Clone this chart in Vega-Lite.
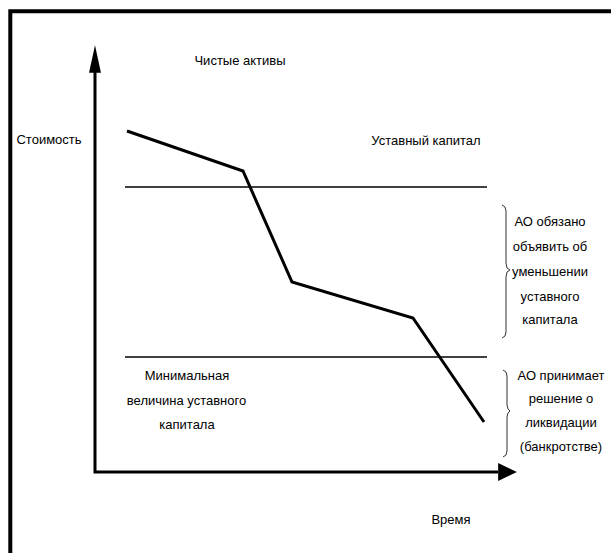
{
  "$schema": "https://vega.github.io/schema/vega-lite/v6.json",
  "width": 611,
  "height": 553,
  "autosize": {"type": "none"},
  "padding": 0,
  "background": "white",
  "config": {"view": {"stroke": null}},
  "datasets": {
    "frame": [
      {"o": 1, "t": -16.94, "v": -17},
      {"o": 2, "t": -16.94, "v": 92.14},
      {"o": 3, "t": 104, "v": 92.14}
    ],
    "axes": [
      {"o": 1, "t": 0, "v": 80},
      {"o": 2, "t": 0, "v": 0},
      {"o": 3, "t": 80.6, "v": 0}
    ],
    "levels": [
      {"level": "Уставный капитал", "t0": 6, "t1": 78.4, "v": 57},
      {"level": "Минимальная величина уставного капитала", "t0": 6, "t1": 78.4, "v": 23}
    ],
    "netAssets": [
      {"t": 6.4, "v": 68.2},
      {"t": 29.6, "v": 60.2},
      {"t": 39.4, "v": 38},
      {"t": 63.6, "v": 30.8},
      {"t": 77.8, "v": 10}
    ],
    "braces": [
      {"brace": "a", "o": 1, "t": 81.4, "v": 53.4},
      {"brace": "a", "o": 2, "t": 82, "v": 53},
      {"brace": "a", "o": 3, "t": 82.2, "v": 52.2},
      {"brace": "a", "o": 4, "t": 82.2, "v": 41.8},
      {"brace": "a", "o": 5, "t": 82.4, "v": 40.8},
      {"brace": "a", "o": 6, "t": 83, "v": 40.4},
      {"brace": "a", "o": 7, "t": 82.4, "v": 40},
      {"brace": "a", "o": 8, "t": 82.2, "v": 39},
      {"brace": "a", "o": 9, "t": 82.2, "v": 28},
      {"brace": "a", "o": 10, "t": 82, "v": 27.2},
      {"brace": "a", "o": 11, "t": 81.4, "v": 26.8},
      {"brace": "b", "o": 1, "t": 81.6, "v": 20.4},
      {"brace": "b", "o": 2, "t": 82.2, "v": 20},
      {"brace": "b", "o": 3, "t": 82.4, "v": 19.2},
      {"brace": "b", "o": 4, "t": 82.4, "v": 13.4},
      {"brace": "b", "o": 5, "t": 82.6, "v": 12.6},
      {"brace": "b", "o": 6, "t": 83, "v": 12.2},
      {"brace": "b", "o": 7, "t": 82.6, "v": 11.8},
      {"brace": "b", "o": 8, "t": 82.4, "v": 11},
      {"brace": "b", "o": 9, "t": 82.4, "v": 4.2},
      {"brace": "b", "o": 10, "t": 82.2, "v": 3.4},
      {"brace": "b", "o": 11, "t": 81.6, "v": 3}
    ],
    "arrowY": [{"t": 0, "v": 82.6}],
    "arrowX": [{"t": 82.5, "v": 0}],
    "labels": [
      {"label": "Чистые активы", "t": 29, "v": 82.2},
      {"label": "Стоимость", "t": -9.2, "v": 66.4},
      {"label": "Уставный капитал", "t": 66.2, "v": 66.2},
      {"label": "Время", "t": 71.2, "v": -9.6},
      {"label": "Минимальная", "t": 18.4, "v": 19.2},
      {"label": "величина уставного", "t": 18.3, "v": 14.2},
      {"label": "капитала", "t": 18.4, "v": 9.4},
      {"label": "АО обязано", "t": 91, "v": 50},
      {"label": "объявить об", "t": 91, "v": 45},
      {"label": "уменьшении", "t": 91, "v": 40},
      {"label": "уставного", "t": 91, "v": 35},
      {"label": "капитала", "t": 91, "v": 30.4},
      {"label": "АО принимает", "t": 93.2, "v": 19.2},
      {"label": "решение о", "t": 93.2, "v": 14.6},
      {"label": "ликвидации", "t": 93.2, "v": 9.8},
      {"label": "(банкротстве)", "t": 93.2, "v": 5}
    ]
  },
  "encoding": {
    "x": {"field": "t", "type": "quantitative", "axis": null, "scale": {"domain": [-19, 103.2], "nice": false, "zero": false}},
    "y": {"field": "v", "type": "quantitative", "axis": null, "scale": {"domain": [-16.2, 94.4], "nice": false, "zero": false}}
  },
  "layer": [
    {
      "data": {"name": "frame"},
      "mark": {"type": "line", "color": "black", "strokeWidth": 4, "strokeJoin": "miter", "strokeCap": "square", "clip": false},
      "encoding": {"order": {"field": "o", "type": "quantitative"}}
    },
    {
      "data": {"name": "axes"},
      "mark": {"type": "line", "color": "black", "strokeWidth": 3, "strokeJoin": "miter"},
      "encoding": {"order": {"field": "o", "type": "quantitative"}}
    },
    {
      "data": {"name": "levels"},
      "mark": {"type": "rule", "color": "black", "strokeWidth": 1.5},
      "encoding": {
        "x": {"field": "t0", "type": "quantitative"},
        "x2": {"field": "t1"},
        "y": {"field": "v", "type": "quantitative"}
      }
    },
    {
      "data": {"name": "netAssets"},
      "mark": {"type": "line", "color": "black", "strokeWidth": 3, "strokeJoin": "miter"},
      "encoding": {}
    },
    {
      "data": {"name": "braces"},
      "mark": {"type": "line", "color": "#333", "strokeWidth": 1},
      "encoding": {
        "detail": {"field": "brace", "type": "nominal"},
        "order": {"field": "o", "type": "quantitative"}
      }
    },
    {
      "data": {"name": "arrowY"},
      "mark": {"type": "point", "filled": true, "color": "black", "opacity": 1, "strokeWidth": 0, "size": 770, "shape": "M0,-1L0.43,1L-0.43,1Z"},
      "encoding": {}
    },
    {
      "data": {"name": "arrowX"},
      "mark": {"type": "point", "filled": true, "color": "black", "opacity": 1, "strokeWidth": 0, "size": 350, "shape": "M1,0L-1,-0.95L-1,0.95Z"},
      "encoding": {}
    },
    {
      "data": {"name": "labels"},
      "mark": {"type": "text", "font": "Liberation Sans", "fontSize": 13, "color": "black", "align": "center", "baseline": "middle"},
      "encoding": {"text": {"field": "label", "type": "nominal"}}
    }
  ]
}
